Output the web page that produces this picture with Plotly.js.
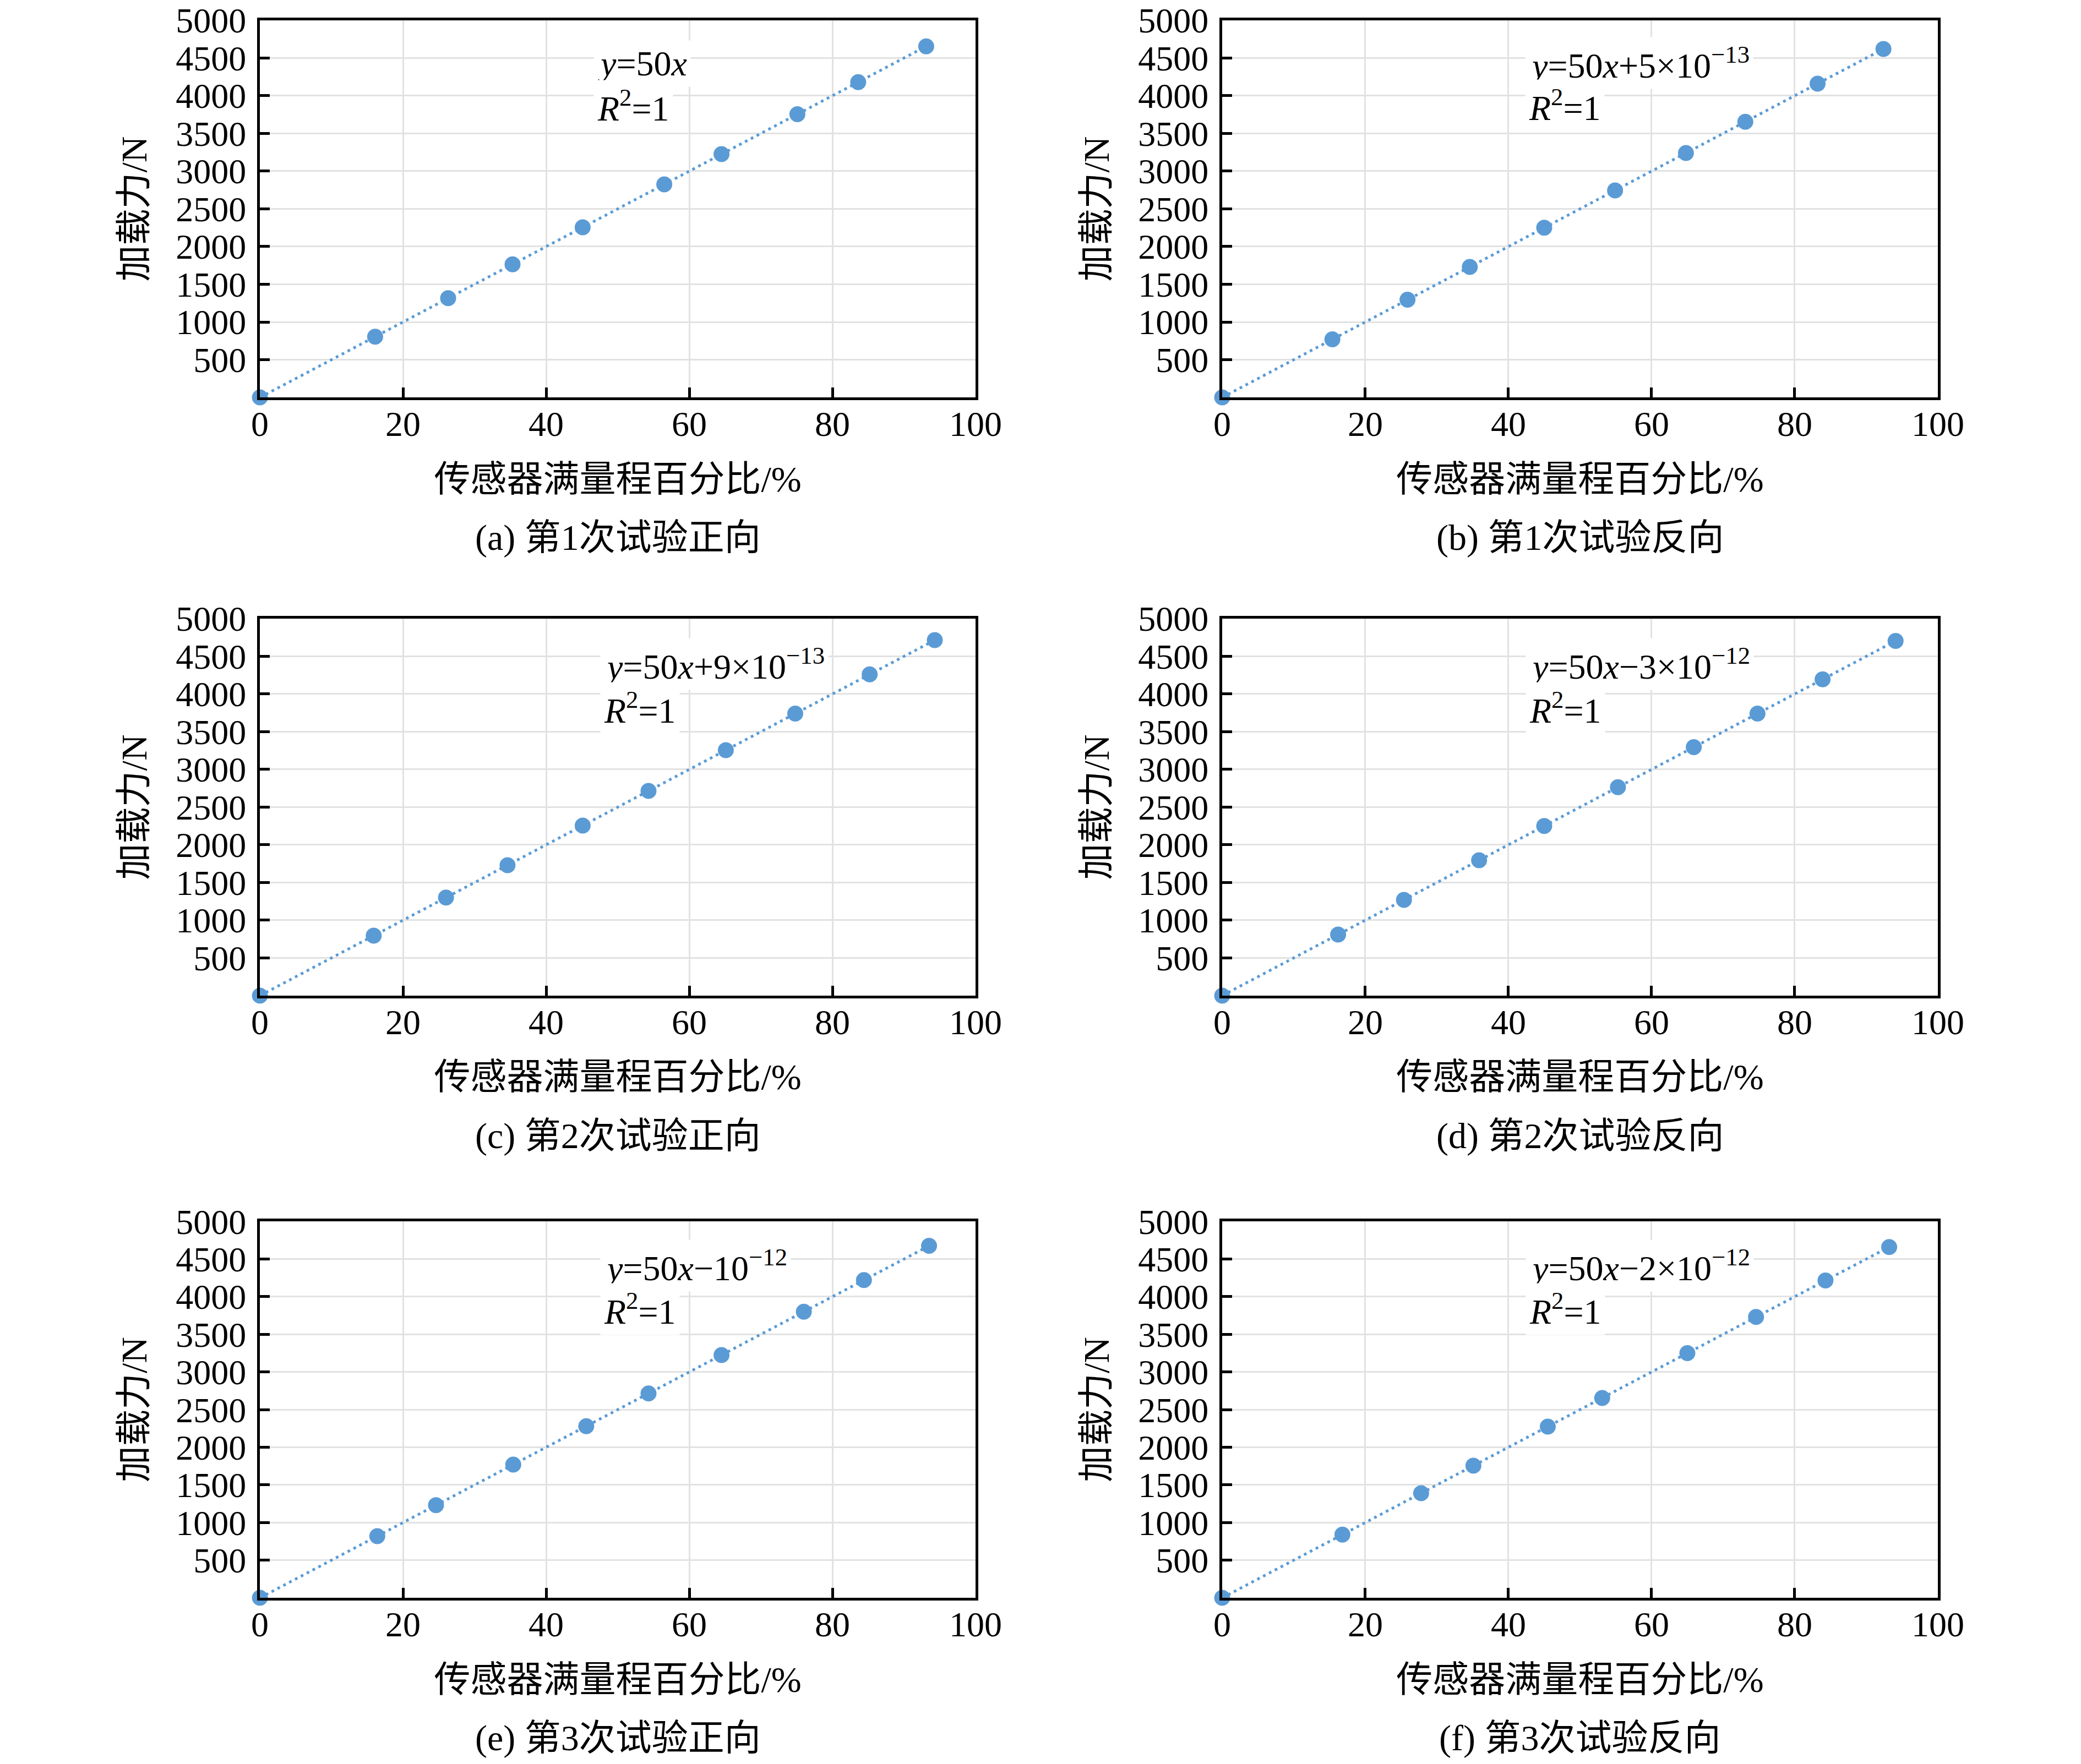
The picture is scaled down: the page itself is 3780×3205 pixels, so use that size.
<!DOCTYPE html>
<html>
<head>
<meta charset="utf-8">
<script src="https://cdn.plot.ly/plotly-3.0.1.min.js"></script>
<style>
  html, body { margin: 0; padding: 0; background: #fff; }
  #chart { width: 3780px; height: 3205px; }
</style>
</head>
<body>
<div id="chart"></div>
<script>
(() => {
    "use strict";

    // values: % of sensor full range and loading force (N)
    const pctA = [0, 16.1, 26.3, 35.3, 45.1, 56.5, 64.5, 75.1, 83.6, 93.1];
    const forceA = [0, 805, 1315, 1765, 2255, 2825, 3225, 3755, 4180, 4655];
    const pctB = [0, 15.4, 25.9, 34.6, 45.0, 54.9, 64.8, 73.1, 83.2, 92.4];
    const forceB = [0, 770, 1295, 1730, 2250, 2745, 3240, 3655, 4160, 4620];
    const pctC = [0, 15.9, 26.0, 34.6, 45.1, 54.3, 65.1, 74.8, 85.2, 94.3];
    const forceC = [0, 795, 1300, 1730, 2255, 2715, 3255, 3740, 4260, 4715];
    const pctD = [0, 16.2, 25.4, 35.9, 45.0, 55.3, 65.9, 74.8, 83.9, 94.1];
    const forceD = [0, 810, 1270, 1795, 2250, 2765, 3295, 3740, 4195, 4705];
    const pctE = [0, 16.4, 24.6, 35.4, 45.6, 54.3, 64.5, 76.0, 84.4, 93.5];
    const forceE = [0, 820, 1230, 1770, 2280, 2715, 3225, 3800, 4220, 4675];
    const pctF = [0, 16.8, 27.8, 35.1, 45.5, 53.1, 65.0, 74.6, 84.3, 93.2];
    const forceF = [0, 840, 1390, 1755, 2275, 2655, 3250, 3730, 4215, 4660];

    const captions = [
        "(a) 第1次试验正向", "(b) 第1次试验反向",
        "(c) 第2次试验正向", "(d) 第2次试验反向",
        "(e) 第3次试验正向", "(f) 第3次试验反向",
    ];
    const equations = [
        "<i>y</i>=50<i>x</i>",
        "<i>y</i>=50<i>x</i>+5×10<sup>−13</sup>",
        "<i>y</i>=50<i>x</i>+9×10<sup>−13</sup>",
        "<i>y</i>=50<i>x</i>−3×10<sup>−12</sup>",
        "<i>y</i>=50<i>x</i>−10<sup>−12</sup>",
        "<i>y</i>=50<i>x</i>−2×10<sup>−12</sup>",
    ];
    const r2Text = "<i>R</i><sup>2</sup>=1";
    const xTitle = "传感器满量程百分比/%";
    const yTitle = "加载力/N";
    const xTicks = [0, 20, 40, 60, 80, 100];
    const yTicks = [500, 1000, 1500, 2000, 2500, 3000, 3500, 4000, 4500, 5000];

    const series = [
        [pctA, forceA], [pctB, forceB], [pctC, forceC],
        [pctD, forceD], [pctE, forceE], [pctF, forceF],
    ];

    // layout of the 2x3 grid and where the equation labels sit
    const cols = [[0.1249, 0.4688], [0.5873, 0.9312]];
    const rows = [[0.7747, 0.9885], [0.4356, 0.6493], [0.0942, 0.3076]];
    const eqPos = [
        { x: 46.6, y: 4425, r: 3862 },
        { x: 42.3, y: 4432, r: 3873 },
        { x: 47.5, y: 4395, r: 3816 },
        { x: 42.4, y: 4395, r: 3816 },
        { x: 47.5, y: 4410, r: 3834 },
        { x: 42.4, y: 4410, r: 3834 },
    ];

    const blue = "#5b9bd5";
    const serif = "'Liberation Serif', 'Times New Roman', 'Noto Sans CJK SC', serif";
    const cjk = "'Liberation Serif', 'Noto Sans CJK SC', serif";

    const traces = [];
    const layout = {
        width: 3780,
        height: 3205,
        margin: { l: 0, r: 0, t: 0, b: 0 },
        paper_bgcolor: "#fff",
        plot_bgcolor: "#fff",
        showlegend: false,
        font: { family: serif, size: 64, color: "#000" },
        annotations: [],
    };

    series.forEach(([x, y], i) => {
        const n = i === 0 ? "" : String(i + 1);
        const col = cols[i % 2];
        const row = rows[Math.floor(i / 2)];

        traces.push({
            x, y,
            xaxis: "x" + n, yaxis: "y" + n,
            type: "scatter",
            mode: "lines+markers",
            cliponaxis: false,
            line: { color: blue, width: 5, dash: "5px,7px" },
            marker: { color: blue, size: 29 },
            hoverinfo: "skip",
        });

        const axisCommon = {
            showline: true,
            mirror: true,
            linecolor: "#000",
            linewidth: 5,
            ticks: "inside",
            ticklen: 18,
            tickwidth: 5,
            tickcolor: "#000",
            showgrid: true,
            gridcolor: "#e2e2e2",
            gridwidth: 3,
            zeroline: false,
            tickfont: { family: serif, size: 64, color: "#000" },
            automargin: false,
            fixedrange: true,
        };

        layout["xaxis" + n] = Object.assign({}, axisCommon, {
            domain: col,
            anchor: "y" + n,
            range: [0, 100],
            tickvals: xTicks,
            ticklabelstandoff: -12,
            title: { text: xTitle, font: { family: cjk, size: 66, color: "#000" }, standoff: 43 },
        });
        layout["yaxis" + n] = Object.assign({}, axisCommon, {
            domain: row,
            anchor: "x" + n,
            range: [0, 5000],
            tickvals: yTicks,
            ticklabelstandoff: 7,
            title: { text: yTitle, font: { family: cjk, size: 66, color: "#000" }, standoff: 33 },
        });

        const xr = "x" + n, yr = "y" + n;
        layout.annotations.push({
            xref: xr, yref: yr, x: eqPos[i].x, y: eqPos[i].y,
            xanchor: "left", yanchor: "middle",
            text: equations[i], showarrow: false,
            bgcolor: "#fff", borderpad: 6,
            font: { family: serif, size: 64, color: "#000" },
        });
        layout.annotations.push({
            xref: xr, yref: yr, x: eqPos[i].x, y: eqPos[i].r,
            xanchor: "left", yanchor: "middle",
            text: r2Text, showarrow: false,
            bgcolor: "#fff", borderpad: 6,
            font: { family: serif, size: 64, color: "#000" },
        });
        layout.annotations.push({
            xref: xr + " domain", yref: yr + " domain", x: 0.5, y: 0,
            xanchor: "center", yanchor: "middle", yshift: -255,
            text: captions[i], showarrow: false,
            font: { family: cjk, size: 66, color: "#000" },
        });
    });

    Plotly.newPlot("chart", traces, layout, { displayModeBar: false, staticPlot: true });
})();
</script>
</body>
</html>
